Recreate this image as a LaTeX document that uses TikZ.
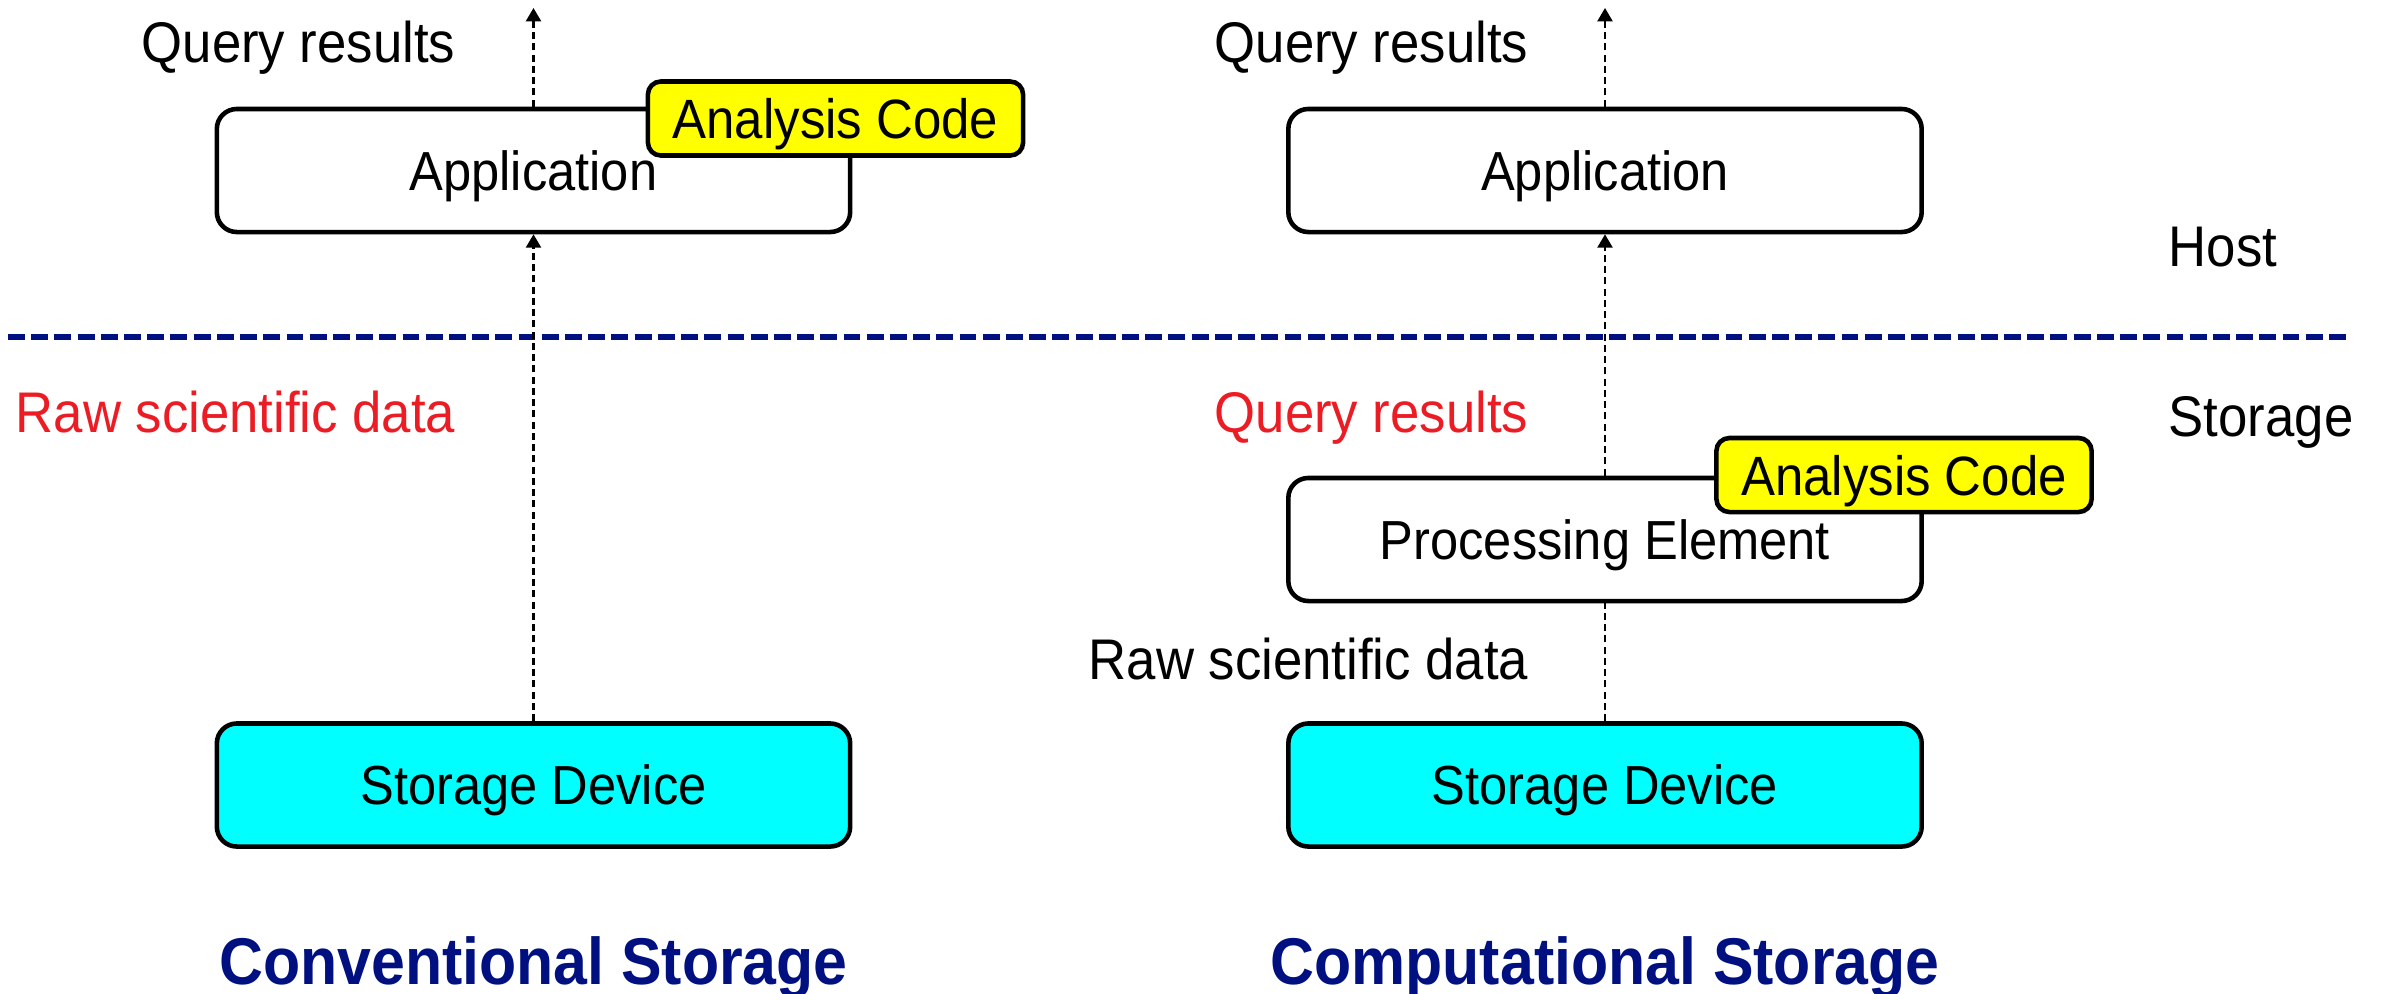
\documentclass[tikz,border=0pt]{standalone}
\usepackage{fontspec}
\setmainfont[FakeStretch=0.92]{Liberation Sans}
\usetikzlibrary{arrows.meta}
\definecolor{navy}{RGB}{0,16,128}
\definecolor{redtxt}{RGB}{236,28,36}
\definecolor{cyanfill}{RGB}{0,255,255}
\definecolor{yellowfill}{RGB}{255,255,0}
\begin{document}
\begin{tikzpicture}[x=0.01cm,y=-0.01cm,
 box/.style={draw=black,line width=1.3pt,rounded corners=0.2cm,minimum width=6.33cm,minimum height=1.23cm,inner sep=0pt,text depth=0pt,font=\fontsize{15.65pt}{18pt}\selectfont,fill=white},
 codebox/.style={draw=black,line width=1.3pt,rounded corners=0.13cm,fill=yellowfill,minimum width=3.75cm,minimum height=0.74cm,inner sep=0pt,text depth=0pt,font=\fontsize{15.75pt}{18pt}\selectfont},
 flow/.style={line width=0.6pt,dash pattern=on 2pt off 1.2pt},
 flowarrow/.style={flow,-{Triangle[width=4.3pt,length=3.8pt]}},
 lbl/.style={font=\fontsize{16.3pt}{19pt}\selectfont,inner sep=0pt,anchor=base east},
 side/.style={font=\fontsize{16.3pt}{19pt}\selectfont,inner sep=0pt,anchor=base west},
 title/.style={font=\fontsize{18.8pt}{22pt}\selectfont\bfseries,text=navy,inner sep=0pt,anchor=base}
]
\useasboundingbox (0,0) rectangle (2381,993);

% separator
\coordinate (sepL) at (8,337);
\coordinate (sepR) at (2351,337);
\draw[navy,line width=1.5pt,dash pattern=on 4.8pt off 1.8pt] (sepL) -- (sepR);

% left column
\node[box] (appL) at (533.5,170.5) {Application};
\node[codebox] (acL) at (835.5,118.5) {Analysis Code};
\node[box,fill=cyanfill] (sdL) at (533.5,785) {Storage Device};
\coordinate (topL) at (533.5,8);
\draw[flowarrow] (appL.north) -- (topL);
\draw[flowarrow] (sdL.north) -- (appL.south);

% right column
\node[box] (appR) at (1605,170.5) {Application};
\node[box] (peR) at (1605,539.5) {Processing Element};
\node[codebox] (acR) at (1904,475) {Analysis Code};
\node[box,fill=cyanfill] (sdR) at (1605,785) {Storage Device};
\coordinate (topR) at (1605,8);
\draw[flowarrow] (appR.north) -- (topR);
\draw[flowarrow] (peR.north) -- (appR.south);
\draw[flow] (sdR.north) -- (peR.south);

% labels
\node[lbl] (qL) at (456,62) {Query results};
\node[lbl,text=redtxt] (rawL) at (456,432) {Raw scientific data};
\node[lbl] (qR) at (1529,62) {Query results};
\node[lbl,text=redtxt] (qR2) at (1529,432) {Query results};
\node[lbl] (rawR) at (1529,679) {Raw scientific data};
\node[side] (host) at (2168,266) {Host};
\node[side] (stor) at (2168,436) {Storage};

% titles
\node[title] (tL) at (533.5,984) {Conventional Storage};
\node[title] (tR) at (1605,984) {Computational Storage};
\end{tikzpicture}
\end{document}
